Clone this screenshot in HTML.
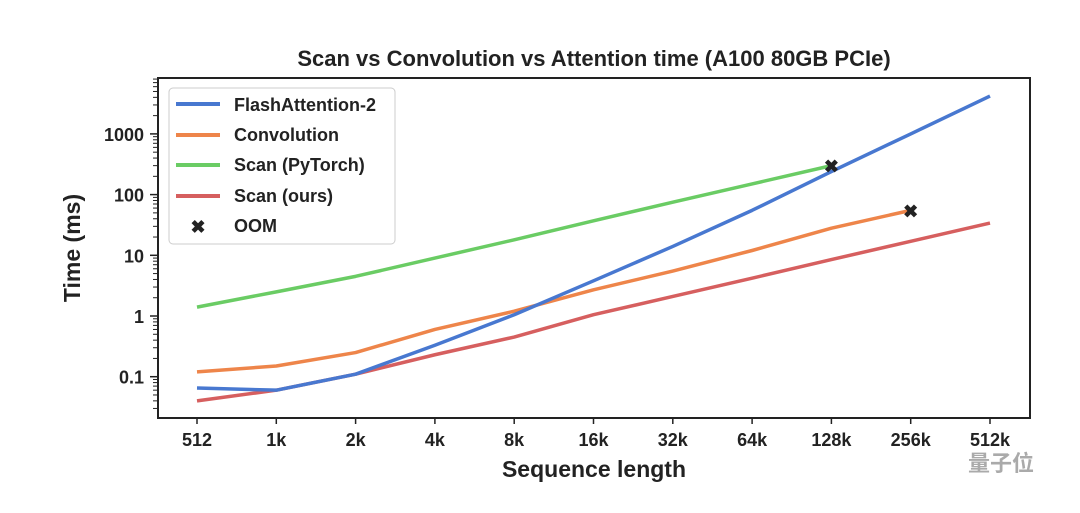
<!DOCTYPE html>
<html><head><meta charset="utf-8"><style>
body{margin:0;background:#fff;}
svg text{font-family:"Liberation Sans","Noto Sans CJK SC",sans-serif;font-weight:bold;fill:#222;}
</style></head><body>
<svg id="chart" width="1080" height="508">
<text x="594" y="66" font-size="22" text-anchor="middle">Scan vs Convolution vs Attention time (A100 80GB PCIe)</text>
<rect x="158" y="78" width="872" height="340" fill="none" stroke="#222" stroke-width="2"/>
<g id="axes"></g>
<g id="series"></g>
<text x="594" y="477" font-size="23" text-anchor="middle">Sequence length</text>
<text transform="translate(80,248) rotate(-90)" font-size="23" text-anchor="middle">Time (ms)</text>
<g>
<rect x="169" y="88" width="226" height="156" rx="4" fill="#fff" stroke="#ccc"/>
<line x1="176" y1="104" x2="220" y2="104" stroke="#4878d0" stroke-width="4"/><text x="234" y="111" font-size="18">FlashAttention-2</text>
<line x1="176" y1="135" x2="220" y2="135" stroke="#ee854a" stroke-width="4"/><text x="234" y="141" font-size="18">Convolution</text>
<line x1="176" y1="165" x2="220" y2="165" stroke="#6acc64" stroke-width="4"/><text x="234" y="171" font-size="18">Scan (PyTorch)</text>
<line x1="176" y1="196" x2="220" y2="196" stroke="#d65f5f" stroke-width="4"/><text x="234" y="202" font-size="18">Scan (ours)</text>
<text x="198" y="233" font-size="18" text-anchor="middle">✖</text><text x="234" y="232" font-size="18">OOM</text>
</g>
<text x="968" y="471" font-size="22" style="fill:#aaa">量子位</text>
</svg>
<script>
const categories=["512","1k","2k","4k","8k","16k","32k","64k","128k","256k","512k"];
const flashAttn=[0.065,0.06,0.11,0.33,1.05,3.8,14,55,240,1000,4200];
const convolution=[0.12,0.15,0.25,0.6,1.2,2.7,5.5,12,28,55];
const scanPyTorch=[1.4,2.5,4.5,9,18,37,75,150,300];
const scanOurs=[0.04,0.06,0.11,0.23,0.45,1.05,2.1,4.2,8.5,17,34];
const oomIdx=[8,9];
const oomVals=[300,55];
const yTicks=[0.1,1,10,100,1000];
const yTickLabels=["0.1","1","10","100","1000"];
const NS="http://www.w3.org/2000/svg";
const xs=i=>197+i*79.3;
const ys=v=>316-60.7*Math.log10(v);
const axes=document.getElementById('axes'),ser=document.getElementById('series');
function mk(t,a,p){const e=document.createElementNS(NS,t);for(const k in a)e.setAttribute(k,a[k]);p.appendChild(e);return e;}
categories.forEach((c,i)=>{
 const l=mk('line',{x1:xs(i),x2:xs(i),y1:418,y2:424,stroke:'#222','stroke-width':1.5},axes);
 
 
 const t=mk('text',{x:xs(i),y:446,'font-size':18,'text-anchor':'middle'},axes);t.textContent=c;
 
 
});
for(let d=-2;d<=3;d++)for(let m=2;m<=9;m++){const v=m*Math.pow(10,d);const y=ys(v);if(y<79||y>417)continue;
 const l=mk('line',{x1:153,x2:158,y1:y,y2:y,stroke:'#222','stroke-width':1},axes);
 
 }
yTicks.forEach((v,i)=>{
 const l=mk('line',{x1:150,x2:158,y1:ys(v),y2:ys(v),stroke:'#222','stroke-width':1.5},axes);
 
 
 const t=mk('text',{x:144,y:ys(v)+7,'font-size':18,'text-anchor':'end'},axes);t.textContent=yTickLabels[i];
 
 
});
function line(arr,col,name){const p=mk('polyline',{points:arr.map((v,i)=>xs(i)+','+ys(v)).join(' '),fill:'none',stroke:col,'stroke-width':3.5,'stroke-linejoin':'round'},ser);
 
 }
line(scanPyTorch,'#6acc64','line-scan-pytorch');
line(convolution,'#ee854a','line-convolution');
line(scanOurs,'#d65f5f','line-scan-ours');
line(flashAttn,'#4878d0','line-flashattention-2');
oomIdx.forEach((ix,k)=>{const t=mk('text',{x:xs(ix),y:ys(oomVals[k])+7,'font-size':18,'text-anchor':'middle'},ser);t.textContent='✖';
 
 });
</script>
</body></html>
